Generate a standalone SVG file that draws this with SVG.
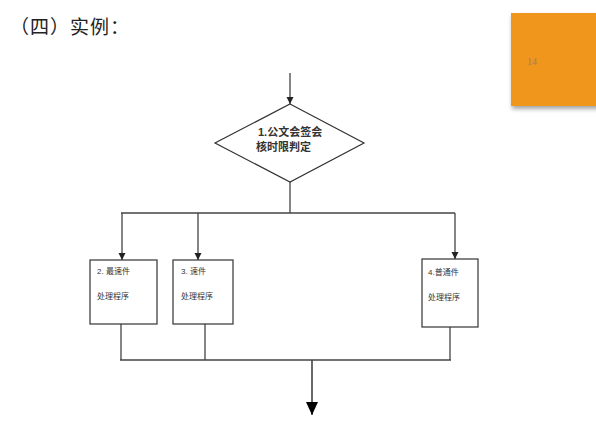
<svg xmlns="http://www.w3.org/2000/svg" width="596" height="434" viewBox="0 0 596 434">
<defs>
<marker id="ah" markerWidth="8" markerHeight="8" refX="7" refY="4" orient="auto" markerUnits="userSpaceOnUse">
<path d="M0,0.5 L7,4 L0,7.5 Z" fill="#222"/>
</marker>
<marker id="ahBig" markerWidth="14" markerHeight="14" refX="13" refY="6" orient="auto" markerUnits="userSpaceOnUse">
<path d="M0,0 L13,6 L0,12 Z" fill="#000"/>
</marker>
<filter id="sh" x="-10%" y="-10%" width="130%" height="130%">
<feDropShadow dx="1" dy="3" stdDeviation="2" flood-color="#000" flood-opacity="0.35"/>
</filter>
<style>
.ln{stroke:#444;stroke-width:1.3;fill:none}
.box{fill:#fff;stroke:#333;stroke-width:1.2}
.t{font-family:"Liberation Sans","Noto Sans CJK SC",sans-serif;fill:#333}
.s{font-size:8px}
</style>
</defs>
<rect width="596" height="434" fill="#fff"/>
<text x="10" y="34" class="t" style="font-size:19px;fill:#222;letter-spacing:1px">（四）实例：</text>
<g id="slide-number">
<rect x="511" y="13" width="90" height="93" fill="#f0961a" filter="url(#sh)"/>
<text x="527" y="65" style="font-family:'Liberation Serif',serif;font-size:10px;fill:#a08060">14</text>
</g>
<g id="connectors">
<line class="ln" x1="290" y1="73" x2="290" y2="104" marker-end="url(#ah)"/>
<polyline class="ln" points="290,182 290,213"/>
<line class="ln" x1="121" y1="213" x2="455" y2="213"/>
<line class="ln" x1="122" y1="213" x2="122" y2="260" marker-end="url(#ah)"/>
<line class="ln" x1="198" y1="213" x2="198" y2="260" marker-end="url(#ah)"/>
<line class="ln" x1="455" y1="213" x2="455" y2="259" marker-end="url(#ah)"/>
<line class="ln" x1="121" y1="324" x2="121" y2="360"/>
<line class="ln" x1="205" y1="324" x2="205" y2="360"/>
<line class="ln" x1="450" y1="327" x2="450" y2="360"/>
<line class="ln" x1="120" y1="360" x2="451" y2="360"/>
<line x1="312" y1="360" x2="312" y2="415" stroke="#444" stroke-width="1.6" marker-end="url(#ahBig)"/>
</g>
<g id="node1">
<polygon class="box" points="290,104 364,143 290,182 215,143"/>
<text x="258" y="136" class="t" style="font-size:11px;font-weight:bold">1.公文会签会</text>
<text x="256" y="151" class="t" style="font-size:11px;font-weight:bold">核时限判定</text>
</g>
<g id="node2">
<rect class="box" x="90" y="260" width="67" height="64"/>
<text x="97" y="274" class="t s">2. 最速件</text>
<text x="97" y="299" class="t s">处理程序</text>
</g>
<g id="node3">
<rect class="box" x="173" y="260" width="60" height="64"/>
<text x="181" y="274" class="t s">3. 速件</text>
<text x="181" y="299" class="t s">处理程序</text>
</g>
<g id="node4">
<rect class="box" x="422" y="259" width="56" height="68"/>
<text x="428" y="275" class="t s">4.普通件</text>
<text x="428" y="300" class="t s">处理程序</text>
</g>
</svg>
